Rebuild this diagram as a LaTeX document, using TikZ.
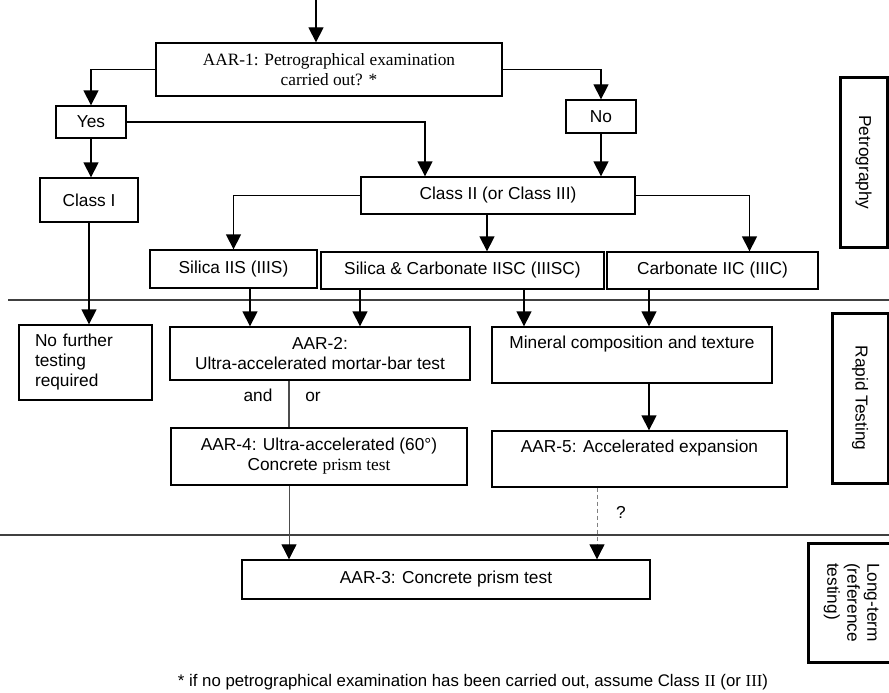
\documentclass[tikz,border=0pt]{standalone}
\usepackage{fontspec}
\setmainfont{Liberation Sans}
\newfontfamily\timesfont{Liberation Serif}
\usetikzlibrary{positioning,arrows.meta}

\tikzset{
  box/.style={draw, line width=1.3pt, rectangle, align=center, inner sep=2pt},
  serifbox/.style={box, font=\fontsize{17.3}{20}\timesfont},
  sidebox/.style={draw, line width=3pt, rectangle, align=center, rotate=-90, inner sep=2pt},
  flow/.style={-{Triangle[width=15pt,length=15pt,black]}, line width=1.3pt},
  level/.style={line width=1.5pt, black!75}
}

\begin{document}
\begin{tikzpicture}[x=1pt, y=-1pt, font=\fontsize{17.3}{20}\selectfont]
  \useasboundingbox (0,0) rectangle (889,693);

  % levels
  \draw[level] (8,300) -- (889,300);
  \draw[level] (0,535) -- (889,535);

  % petrography
  \coordinate (top) at (316,0);
  \node[serifbox, minimum width=346, minimum height=53] (aar1) at (329,69.5) {AAR-1: Petrographical examination\\carried out? *};
  \node[box, minimum width=70, minimum height=32] (yes) at (91,122) {Yes};
  \node[box, minimum width=70, minimum height=33] (no) at (601,116.5) {No};
  \node[box, minimum width=98, minimum height=44] (classI) at (89,200) {Class I};
  \node[box, minimum width=274, minimum height=37] (classII) at (498,195.5) {Class II (or Class III)};
  \node[box, minimum width=167, minimum height=38] (iis) at (233.5,269) {Silica IIS (IIIS)};
  \node[box, minimum width=283, minimum height=37] (iisc) at (462.5,270.5) {Silica \& Carbonate IISC (IIISC)};
  \node[box, minimum width=211, minimum height=37] (iic) at (712.5,270.5) {Carbonate IIC (IIIC)};

  % rapid testing
  \node[box, minimum width=133, minimum height=75, text width=101, align=left] (nofurther) at (85.5,362.5) {No further\\testing\\required};
  \node[box, minimum width=300, minimum height=53] (aar2) at (320,353.5) {AAR-2:\\Ultra-accelerated mortar-bar test};
  \node[box, minimum width=280, minimum height=56] (mineral) at (632,355) {Mineral composition and texture\\\strut};
  \node[box, minimum width=296, minimum height=57] (aar4) at (319,456.5) {AAR-4: Ultra-accelerated (60°)\\Concrete {\timesfont prism test}};
  \node[box, minimum width=295, minimum height=56] (aar5) at (639.5,459) {AAR-5: Accelerated expansion\\\strut};

  % long-term
  \node[box, minimum width=408, minimum height=39] (aar3) at (446,579.5) {AAR-3: Concrete prism test};

  % side labels
  \node[sidebox, minimum width=169, minimum height=47] (petro) at (863.5,162.5) {Petrography};
  \node[sidebox, minimum width=170, minimum height=56] (rapid) at (860,398) {Rapid Testing};
  \node[sidebox, minimum width=119, minimum height=87, align=left] (longterm) at (851.5,602.5) {Long-term\\(reference\\testing)};

  % drop points
  \coordinate (in1) at ([xshift=-70]aar2.north);
  \coordinate (in2) at ([xshift=40]aar2.north);
  \coordinate (in3) at ([xshift=-108]mineral.north);
  \coordinate (in4) at ([xshift=17]mineral.north);
  \coordinate (k1) at ([xshift=24.5]iisc.north);
  \coordinate (j1) at ([xshift=-157]aar3.north);
  \coordinate (j2) at ([xshift=151]aar3.north);

  % arrows
  \draw[flow] (top) -- (top |- aar1.north);
  \draw[flow] (aar1.west) -| (yes.north);
  \draw[flow] (aar1.east) -| (no.north);
  \draw[flow] (yes.east) -| ([xshift=-73]classII.north);
  \draw[flow] (yes.south) -- (yes.south |- classI.north);
  \draw[flow] (no.south) -- (no.south |- classII.north);
  \draw[flow] (classII.west) -| (iis.north);
  \draw[flow] (k1 |- classII.south) -- (k1);
  \draw[flow] (classII.east) -| ([xshift=37]iic.north);
  \draw[flow] (classI.south) -- (classI.south |- nofurther.north);
  \draw[flow] (in1 |- iis.south) -- (in1);
  \draw[flow] (in2 |- iisc.south) -- (in2);
  \draw[flow] (in3 |- iisc.south) -- (in3);
  \draw[flow] (in4 |- iic.south) -- (in4);
  \draw[flow] (in4 |- mineral.south) -- (in4 |- aar5.north);
  \draw[line width=1.3pt, black!70] (j1 |- aar2.south) -- (j1 |- aar4.north);
  \draw[flow, line width=0.8pt, draw=black!70] (j1 |- aar4.south) -- (j1);
  \draw[flow, line width=0.8pt, draw=black!50, dash pattern=on 4pt off 3pt] (j2 |- aar5.south) -- (j2);

  \node[anchor=base] (and) at (258,401) {and};
  \node[anchor=base] (or) at (313,401) {or};
  \node (maybe) at (621,512) {?};

  % footnote
  \node[font=\fontsize{16.8}{19}\selectfont] (note) at (473,682) {* if no petrographical examination has been carried out, assume Class {\timesfont II} (or {\timesfont III})};
\end{tikzpicture}
\end{document}
